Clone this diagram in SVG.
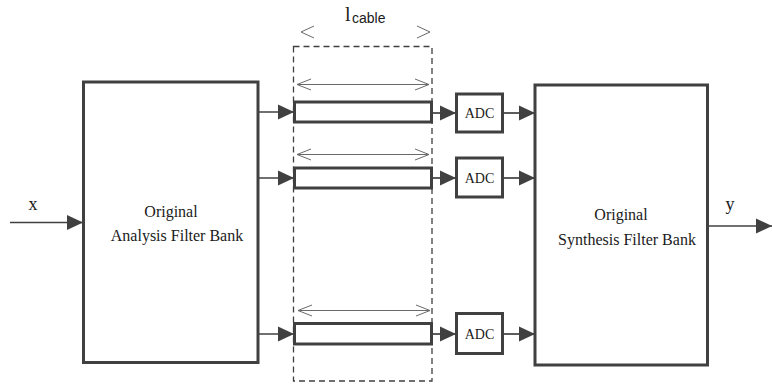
<svg xmlns="http://www.w3.org/2000/svg" width="772" height="387" viewBox="0 0 772 387">
  <style>
    .blk { fill: #fff; stroke: #404040; stroke-width: 3; }
    .wire { fill: none; stroke: #404040; stroke-width: 1.7; }
    .dim { fill: none; stroke: #6a6a6a; stroke-width: 1; }
    .lbl { font-family: "Liberation Serif", serif; fill: #1a1a1a; text-anchor: middle; }
    .bank { font-size: 16px; }
    .adc { font-size: 14px; }
  </style>
  <defs>
    <marker id="tri" markerWidth="17" markerHeight="17" refX="16" refY="8.5" orient="auto" markerUnits="userSpaceOnUse">
      <path d="M0,1 L16,8.5 L0,16 Z" fill="#404040"/>
    </marker>
  </defs>

  <!-- cable length annotation -->
  <g id="cable-label">
    <text x="345" y="21" font-family="Liberation Serif, serif" font-size="20" fill="#1a1a1a">l</text>
    <text x="352" y="23" font-family="Liberation Sans, sans-serif" font-size="14" fill="#1a1a1a">cable</text>
    <polyline class="dim" points="314,26 301,32 314,38"/>
    <polyline class="dim" points="417,26 430,32 417,38"/>
  </g>

  <!-- cable region -->
  <g id="cable-region">
    <rect x="293.5" y="46.5" width="138.5" height="334.5" fill="none" stroke="#404040" stroke-width="1.3" stroke-dasharray="6,4"/>
  </g>

  <!-- filter banks -->
  <g id="analysis-bank">
    <rect class="blk" x="83.5" y="82" width="174.5" height="280.5"/>
    <text class="lbl bank" x="171" y="217">Original</text>
    <text class="lbl bank" x="177" y="241">Analysis Filter Bank</text>
  </g>
  <g id="synthesis-bank">
    <rect class="blk" x="535" y="85" width="172.5" height="280"/>
    <text class="lbl bank" x="621" y="220">Original</text>
    <text class="lbl bank" x="627" y="245">Synthesis Filter Bank</text>
  </g>

  <!-- cables -->
  <g id="cable-1">
    <rect class="blk" x="294.5" y="102" width="137" height="20"/>
    <g class="dim"><line x1="297" y1="84.5" x2="429" y2="84.5"/><polyline points="311,79 297,84.5 311,90"/><polyline points="415,79 429,84.5 415,90"/></g>
  </g>
  <g id="cable-2">
    <rect class="blk" x="294.5" y="168" width="137" height="20"/>
    <g class="dim"><line x1="297" y1="154.5" x2="429" y2="154.5"/><polyline points="311,149 297,154.5 311,160"/><polyline points="415,149 429,154.5 415,160"/></g>
  </g>
  <g id="cable-3">
    <rect class="blk" x="294.5" y="323.5" width="137" height="20.5"/>
    <g class="dim"><line x1="298" y1="310.5" x2="430" y2="310.5"/><polyline points="312,305 298,310.5 312,316"/><polyline points="416,305 430,310.5 416,316"/></g>
  </g>

  <!-- converters -->
  <g id="adc-1">
    <rect class="blk" x="456.5" y="94" width="46" height="38"/>
    <text class="lbl adc" x="479.5" y="118">ADC</text>
  </g>
  <g id="adc-2">
    <rect class="blk" x="456.5" y="158" width="46" height="39"/>
    <text class="lbl adc" x="479.5" y="182.5">ADC</text>
  </g>
  <g id="adc-3">
    <rect class="blk" x="456.5" y="313.5" width="46" height="40"/>
    <text class="lbl adc" x="479.5" y="338.5">ADC</text>
  </g>

  <!-- signal labels -->
  <g id="io-labels">
    <text class="lbl" x="33" y="210" font-size="18">x</text>
    <text class="lbl" x="730" y="210" font-size="18">y</text>
  </g>

  <!-- connectors -->
  <g id="connectors" class="wire">
    <line x1="10" y1="222.5" x2="83" y2="222.5" marker-end="url(#tri)"/>
    <line x1="258" y1="112" x2="294" y2="112" marker-end="url(#tri)"/>
    <line x1="258" y1="178" x2="294" y2="178" marker-end="url(#tri)"/>
    <line x1="258" y1="334" x2="294" y2="334" marker-end="url(#tri)"/>
    <line x1="432" y1="113" x2="456" y2="113" marker-end="url(#tri)"/>
    <line x1="432" y1="178" x2="456" y2="178" marker-end="url(#tri)"/>
    <line x1="432" y1="334" x2="456" y2="334" marker-end="url(#tri)"/>
    <line x1="503" y1="113" x2="535" y2="113" marker-end="url(#tri)"/>
    <line x1="503" y1="178" x2="535" y2="178" marker-end="url(#tri)"/>
    <line x1="503" y1="334" x2="535" y2="334" marker-end="url(#tri)"/>
    <line x1="707.5" y1="226" x2="772" y2="226" marker-end="url(#tri)"/>
  </g>
</svg>
